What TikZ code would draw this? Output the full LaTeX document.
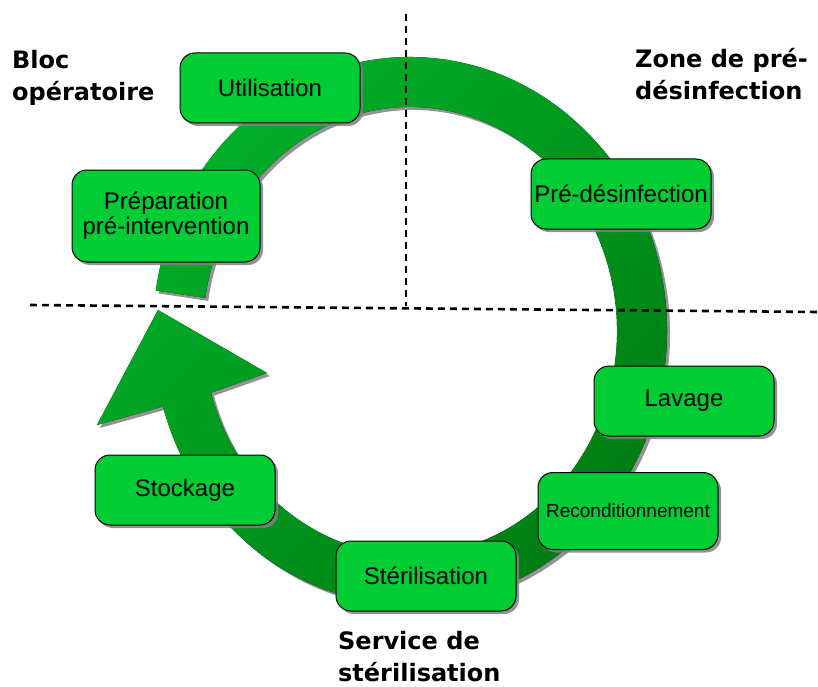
\documentclass[tikz,border=0pt]{standalone}
\usepackage{fontspec}
\setmainfont{Liberation Sans}
\newfontfamily\titrefont{DejaVu Sans}
\usetikzlibrary{shadows,calc}

\definecolor{vertboite}{RGB}{0,204,51}
\definecolor{vertclair}{RGB}{0,178,42}
\definecolor{vertfonce}{RGB}{0,124,18}

\begin{document}
\begin{tikzpicture}[x=1pt, y=-1pt,
    ombre/.style={drop shadow={shadow xshift=3pt, shadow yshift=-3pt, opacity=.85, fill=black!50}},
    etape/.style={draw=black, line width=1pt, fill=vertboite, rounded corners=15pt,
        minimum width=180pt, minimum height=70pt, inner sep=3pt, align=center,
        font=\fontsize{24}{25}\selectfont, ombre},
    zone/.style={anchor=north west, inner sep=0pt, align=left,
        font=\titrefont\bfseries\fontsize{24}{32}\selectfont},
    frontiere/.style={line width=2.6pt, dash pattern=on 7pt off 5pt},
    anneau/.style={top color=vertclair, bottom color=vertfonce, shading angle=45, ombre}]

    \useasboundingbox (0,0) rectangle (818,687);

    %% cycle
    \coordinate (centre) at (410,331);
    \coordinate (barbe1) at (97,425);
    \coordinate (pointe) at (158,310);
    \coordinate (barbe2) at (267,373);
    \fill[anneau] ($(centre)+(188.5:257 and 274)$)
        arc[start angle=188.5, end angle=524, x radius=257, y radius=274]
        -- (barbe1) -- (pointe) -- (barbe2)
        -- ($(centre)+(524:207 and 224)$)
        arc[start angle=524, end angle=188.5, x radius=207, y radius=224] -- cycle;

    %% zones
    \draw[frontiere] (406,14) -- (406,306);
    \draw[frontiere] (30,305) -- (818,312);

    %% etapes
    \node[etape] (utilisation) at (270,88) {Utilisation};
    \node[etape, minimum width=188pt, minimum height=92pt] (preparation) at (166,216) {Préparation\\pré-intervention};
    \node[etape] (predesinfection) at (621,194) {Pré-désinfection};
    \node[etape] (lavage) at (684,401) {Lavage};
    \node[etape, minimum height=77pt, font=\fontsize{19}{20}\selectfont] (recond) at (628,511) {Reconditionnement};
    \node[etape] (sterilisation) at (426,576) {Stérilisation};
    \node[etape] (stockage) at (185,490) {Stockage};

    \node[zone] (bloc) at (12,50) {Bloc\\opératoire};
    \node[zone] (zonepre) at (635,48) {Zone de pré-\\désinfection};
    \node[zone] (service) at (338,631) {Service de\\stérilisation};

\end{tikzpicture}
\end{document}
